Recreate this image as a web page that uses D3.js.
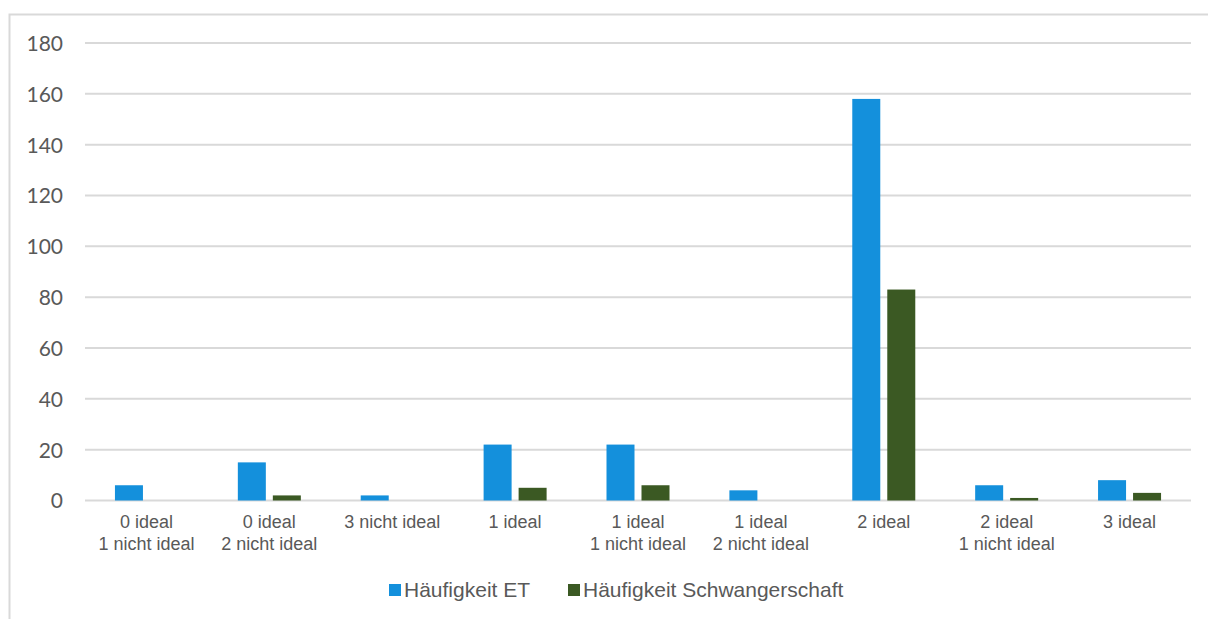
<!DOCTYPE html>
<html>
<head>
<meta charset="utf-8">
<script src="https://cdn.jsdelivr.net/npm/d3@7"></script>
<style>
  html, body { margin: 0; padding: 0; background: #fff; }
  svg { display: block; }
</style>
</head>
<body>
<svg id="chart" width="1209" height="619"></svg>
<script>
// Kategorien (zweizeilige Beschriftung)
const categories = [
  ["0 ideal", "1 nicht ideal"],
  ["0 ideal", "2 nicht ideal"],
  ["3 nicht ideal"],
  ["1 ideal"],
  ["1 ideal", "1 nicht ideal"],
  ["1 ideal", "2 nicht ideal"],
  ["2 ideal"],
  ["2 ideal", "1 nicht ideal"],
  ["3 ideal"]
];
const seriesNames = ["Häufigkeit ET", "Häufigkeit Schwangerschaft"];
const valuesET = [6, 15, 2, 22, 22, 4, 158, 6, 8];
const valuesSchwangerschaft = [0, 2, 0, 5, 6, 0, 83, 1, 3];
const yTicks = [0, 20, 40, 60, 80, 100, 120, 140, 160, 180];
const colors = ["#1490dc", "#3b5923"];

const svg = d3.select("#chart");

// Rahmen (oben und links sichtbar)
svg.append("path")
  .attr("d", "M9.5,619 V14.5 H1208")
  .attr("fill", "none")
  .attr("stroke", "#d9d9d9")
  .attr("stroke-width", 2);

const plotLeft = 85, plotRight = 1191, plotTop = 43, plotBottom = 500.5;

const x = d3.scaleBand()
  .domain(d3.range(categories.length))
  .range([plotLeft, plotRight])
  .paddingInner(0)
  .paddingOuter(0);

const y = d3.scaleLinear().domain([0, 180]).range([plotBottom, plotTop]);

// Gitternetzlinien
svg.append("g")
  .selectAll("line")
  .data(yTicks)
  .join("line")
  .attr("x1", plotLeft)
  .attr("x2", plotRight)
  .attr("y1", d => y(d))
  .attr("y2", d => y(d))
  .attr("stroke", "#d9d9d9")
  .attr("stroke-width", 2);

// Y-Achse
const yAxis = d3.axisLeft(y).tickValues(yTicks).tickSize(0).tickPadding(0);
const yg = svg.append("g").attr("transform", `translate(${plotLeft - 22},0)`).call(yAxis);
yg.select(".domain").remove();
yg.selectAll("text")
  .attr("fill", "#595959")
  .attr("font-family", "Lato, 'Open Sans', sans-serif")
  .attr("font-size", 21)
  .attr("dy", "0.35em");

// Balken
const groupWidth = 63, barWidth = 28, gap = 7;
const series = [valuesET, valuesSchwangerschaft];
series.forEach((vals, si) => {
  svg.append("g")
    .selectAll("rect")
    .data(vals)
    .join("rect")
    .attr("x", (d, i) => x(i) + x.bandwidth() / 2 - groupWidth / 2 + si * (barWidth + gap))
    .attr("y", d => y(d))
    .attr("width", barWidth)
    .attr("height", d => Math.max(0, y(0) - y(d)))
    .attr("fill", colors[si]);
});

// Kategorienbeschriftung
const xl = svg.append("g");
categories.forEach((lines, i) => {
  const t = xl.append("text")
    .attr("x", x(i) + x.bandwidth() / 2)
    .attr("y", 528)
    .attr("text-anchor", "middle")
    .attr("fill", "#595959")
    .attr("font-family", "'Liberation Sans', Arial, sans-serif")
    .attr("font-size", 18);
  lines.forEach((ln, k) => {
    t.append("tspan")
      .attr("x", x(i) + x.bandwidth() / 2)
      .attr("dy", k === 0 ? 0 : 22)
      .text(ln);
  });
});

// Legende
const legend = svg.append("g");
const legendItems = [
  { name: seriesNames[0], color: colors[0], x: 389 },
  { name: seriesNames[1], color: colors[1], x: 568 }
];
legendItems.forEach(it => {
  legend.append("rect")
    .attr("x", it.x)
    .attr("y", 584)
    .attr("width", 12)
    .attr("height", 12)
    .attr("fill", it.color);
  legend.append("text")
    .attr("x", it.x + 15)
    .attr("y", 597)
    .attr("fill", "#595959")
    .attr("font-family", "'Liberation Sans', Arial, sans-serif")
    .attr("font-size", 21)
    .text(it.name);
});
</script>
</body>
</html>
